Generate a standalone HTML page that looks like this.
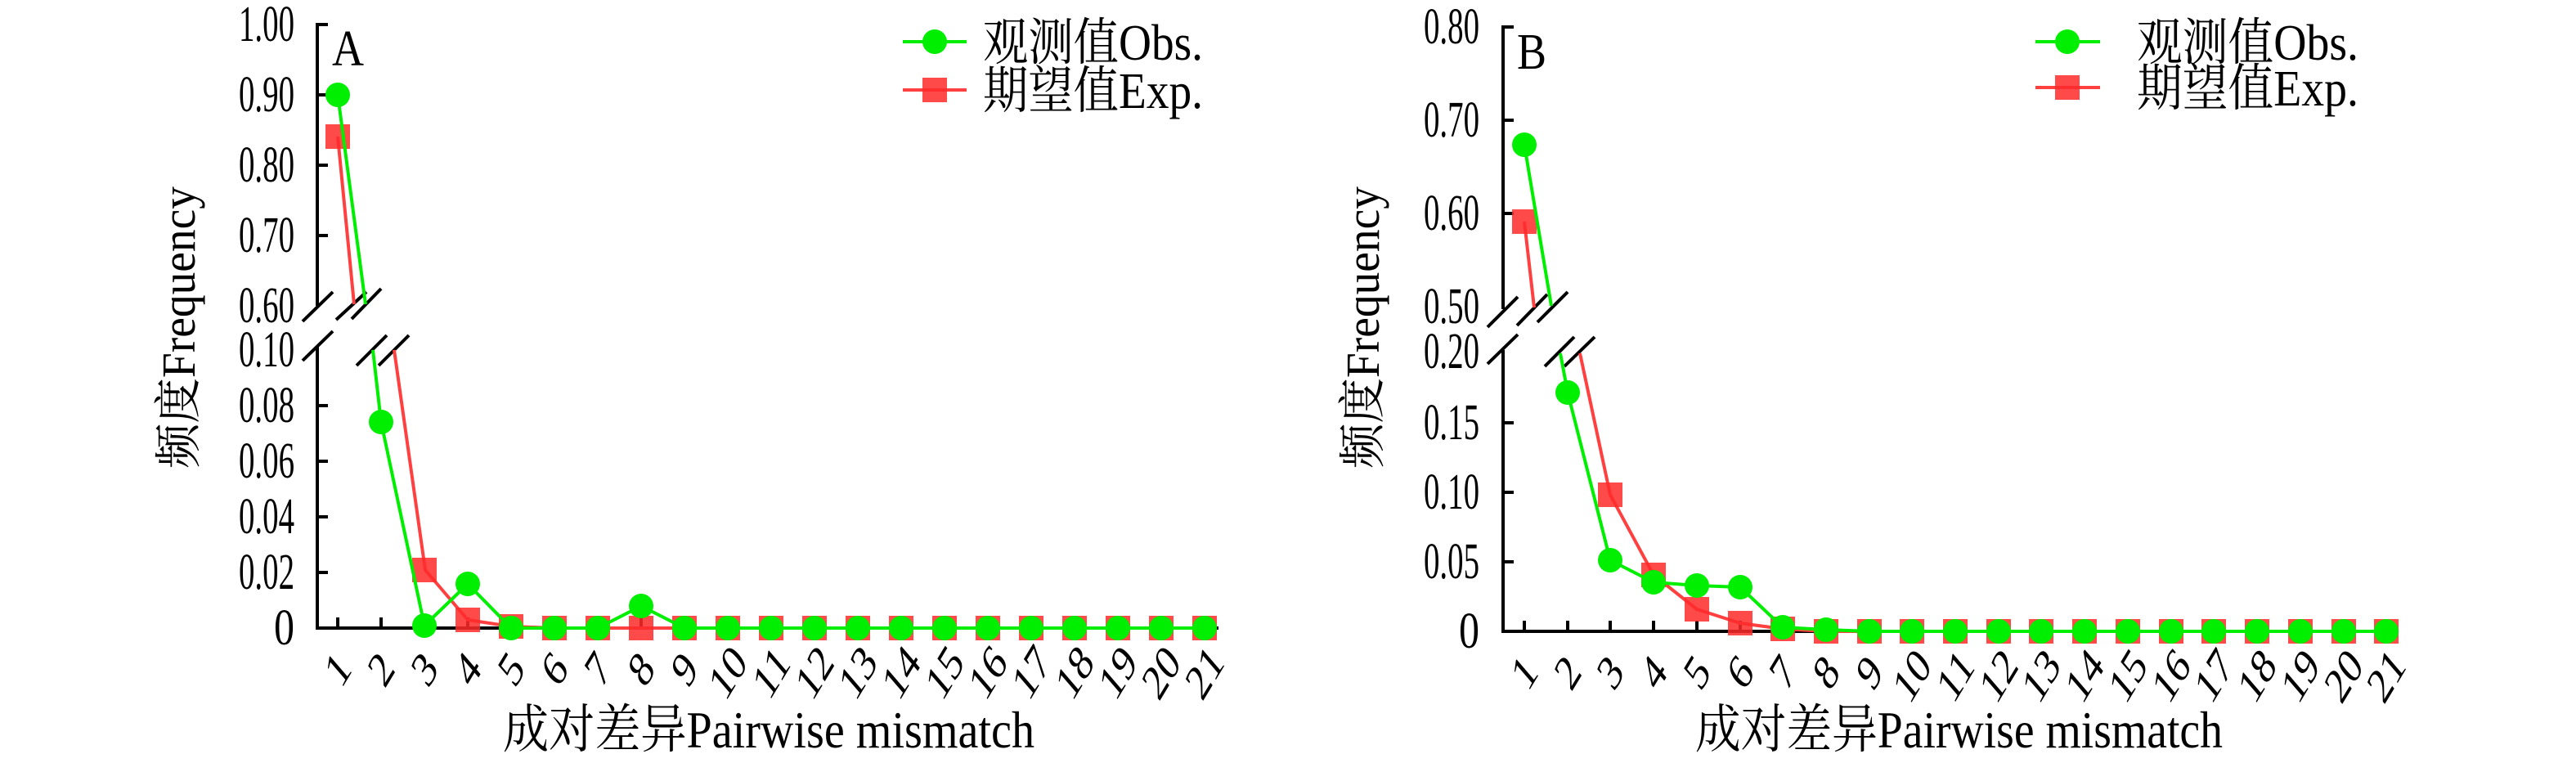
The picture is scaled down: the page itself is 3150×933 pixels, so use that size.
<!DOCTYPE html>
<html><head><meta charset="utf-8"><style>
html,body{margin:0;padding:0;background:#fff;}
svg{display:block;}
text{font-family:"Liberation Serif","Noto Serif CJK SC","Noto Sans CJK SC",serif;fill:#000;}
</style></head><body>
<svg width="3150" height="933" viewBox="0 0 3150 933" xmlns="http://www.w3.org/2000/svg">
<defs>
<circle id="c" r="15" fill="#00ee00"/>
<rect id="s" x="-15" y="-15" width="30" height="30" fill="#ff2a2a" fill-opacity="0.85"/>
</defs>

<!-- ============ PANEL A ============ -->
<g stroke="#000" stroke-width="4" fill="none">
<path d="M401,30 H388 V374"/>
<path d="M388,423 V768 H1490"/>
<path d="M388,116 h13 M388,202 h13 M388,288 h13"/>
<path d="M388,496 h13 M388,564 h13 M388,632 h13 M388,700 h13"/>
<path d="M413,768v-13M466,768v-13M519,768v-13M572,768v-13M625,768v-13M678,768v-13M731,768v-13M784,768v-13M837,768v-13M890,768v-13M943,768v-13M996,768v-13M1049,768v-13M1102,768v-13M1155,768v-13M1208,768v-13M1261,768v-13M1314,768v-13M1367,768v-13M1420,768v-13M1473,768v-13"/>
<path d="M370,393 L407,357 M370,441 L407,405"/>
<path d="M411,391 L448,357 M430,390 L466,353"/>
<path d="M436,447 L473,410 M463,447 L500,410"/>
</g>
<g font-size="62">
<text x="360" y="50" text-anchor="end" textLength="68" lengthAdjust="spacingAndGlyphs">1.00</text>
<text x="360" y="136" text-anchor="end" textLength="68" lengthAdjust="spacingAndGlyphs">0.90</text>
<text x="360" y="222" text-anchor="end" textLength="68" lengthAdjust="spacingAndGlyphs">0.80</text>
<text x="360" y="308" text-anchor="end" textLength="68" lengthAdjust="spacingAndGlyphs">0.70</text>
<text x="360" y="394" text-anchor="end" textLength="68" lengthAdjust="spacingAndGlyphs">0.60</text>
<text x="360" y="448" text-anchor="end" textLength="68" lengthAdjust="spacingAndGlyphs">0.10</text>
<text x="360" y="516" text-anchor="end" textLength="68" lengthAdjust="spacingAndGlyphs">0.08</text>
<text x="360" y="584" text-anchor="end" textLength="68" lengthAdjust="spacingAndGlyphs">0.06</text>
<text x="360" y="652" text-anchor="end" textLength="68" lengthAdjust="spacingAndGlyphs">0.04</text>
<text x="360" y="720" text-anchor="end" textLength="68" lengthAdjust="spacingAndGlyphs">0.02</text>
<text x="360" y="788" text-anchor="end" textLength="25" lengthAdjust="spacingAndGlyphs">0</text>
<text x="406" y="80" textLength="39" lengthAdjust="spacingAndGlyphs">A</text>
</g>
<g font-size="62" text-anchor="middle" dominant-baseline="central">
<text transform="translate(413,818) scale(0.72,1) rotate(-50)">1</text>
<text transform="translate(466,818) scale(0.72,1) rotate(-50)">2</text>
<text transform="translate(519,818) scale(0.72,1) rotate(-50)">3</text>
<text transform="translate(572,818) scale(0.72,1) rotate(-50)">4</text>
<text transform="translate(625,818) scale(0.72,1) rotate(-50)">5</text>
<text transform="translate(678,818) scale(0.72,1) rotate(-50)">6</text>
<text transform="translate(731,818) scale(0.72,1) rotate(-50)">7</text>
<text transform="translate(784,818) scale(0.72,1) rotate(-50)">8</text>
<text transform="translate(837,818) scale(0.72,1) rotate(-50)">9</text>
<text transform="translate(890,822) scale(0.72,1) rotate(-50)">10</text>
<text transform="translate(943,822) scale(0.72,1) rotate(-50)">11</text>
<text transform="translate(996,822) scale(0.72,1) rotate(-50)">12</text>
<text transform="translate(1049,822) scale(0.72,1) rotate(-50)">13</text>
<text transform="translate(1102,822) scale(0.72,1) rotate(-50)">14</text>
<text transform="translate(1155,822) scale(0.72,1) rotate(-50)">15</text>
<text transform="translate(1208,822) scale(0.72,1) rotate(-50)">16</text>
<text transform="translate(1261,822) scale(0.72,1) rotate(-50)">17</text>
<text transform="translate(1314,822) scale(0.72,1) rotate(-50)">18</text>
<text transform="translate(1367,822) scale(0.72,1) rotate(-50)">19</text>
<text transform="translate(1420,822) scale(0.72,1) rotate(-50)">20</text>
<text transform="translate(1473,822) scale(0.72,1) rotate(-50)">21</text>
</g>
<text x="615" y="914" font-size="64" textLength="650" lengthAdjust="spacingAndGlyphs">成对差异Pairwise mismatch</text>
<text transform="translate(238,573) rotate(-90)" font-size="58" textLength="345" lengthAdjust="spacingAndGlyphs">频度Frequency</text>
<!-- legend A -->
<line x1="1104" y1="51" x2="1182" y2="51" stroke="#00ee00" stroke-width="4"/>
<use href="#c" x="1143" y="51"/>
<line x1="1104" y1="110" x2="1182" y2="110" stroke="#ff4040" stroke-width="4"/>
<use href="#s" x="1143" y="110"/>
<text x="1202" y="73" font-size="62" textLength="269" lengthAdjust="spacingAndGlyphs">观测值Obs.</text>
<text x="1202" y="132" font-size="62" textLength="269" lengthAdjust="spacingAndGlyphs">期望值Exp.</text>
<!-- data A -->
<g fill="none" stroke-width="4" stroke-linejoin="round">
<polyline stroke="#ff4040" points="413,167 433,372"/>
<polyline stroke="#ff4040" points="482,428 520,697 572,758 625,766 678,768 1473,768"/>
</g>
<g>
<use href="#s" x="413" y="167"/><use href="#s" x="519" y="697"/><use href="#s" x="572" y="758"/><use href="#s" x="625" y="766"/><use href="#s" x="678" y="768"/><use href="#s" x="731" y="768"/><use href="#s" x="784" y="768"/><use href="#s" x="837" y="768"/><use href="#s" x="890" y="768"/><use href="#s" x="943" y="768"/><use href="#s" x="996" y="768"/><use href="#s" x="1049" y="768"/><use href="#s" x="1102" y="768"/><use href="#s" x="1155" y="768"/><use href="#s" x="1208" y="768"/><use href="#s" x="1261" y="768"/><use href="#s" x="1314" y="768"/><use href="#s" x="1367" y="768"/><use href="#s" x="1420" y="768"/><use href="#s" x="1473" y="768"/>
</g>
<g fill="none" stroke-width="4" stroke-linejoin="round">
<polyline stroke="#00ee00" points="413,116 447,372"/>
<polyline stroke="#00ee00" points="456,428 466,516 519,765 572,714 625,768 731,768 784,741 837,768 1473,768"/>
</g>
<g>
<use href="#c" x="413" y="116"/><use href="#c" x="466" y="516"/><use href="#c" x="519" y="765"/><use href="#c" x="572" y="714"/><use href="#c" x="625" y="768"/><use href="#c" x="678" y="768"/><use href="#c" x="731" y="768"/><use href="#c" x="784" y="741"/><use href="#c" x="837" y="768"/><use href="#c" x="890" y="768"/><use href="#c" x="943" y="768"/><use href="#c" x="996" y="768"/><use href="#c" x="1049" y="768"/><use href="#c" x="1102" y="768"/><use href="#c" x="1155" y="768"/><use href="#c" x="1208" y="768"/><use href="#c" x="1261" y="768"/><use href="#c" x="1314" y="768"/><use href="#c" x="1367" y="768"/><use href="#c" x="1420" y="768"/><use href="#c" x="1473" y="768"/>
</g>

<!-- ============ PANEL B ============ -->
<g stroke="#000" stroke-width="4" fill="none">
<path d="M1851,33 H1838 V378"/>
<path d="M1838,428 V772 H2930"/>
<path d="M1838,147 h13 M1838,261 h13"/>
<path d="M1838,517 h13 M1838,602 h13 M1838,687 h13"/>
<path d="M1864,772v-13M1917,772v-13M1969,772v-13M2022,772v-13M2075,772v-13M2128,772v-13M2180,772v-13M2233,772v-13M2286,772v-13M2338,772v-13M2391,772v-13M2444,772v-13M2496,772v-13M2549,772v-13M2602,772v-13M2655,772v-13M2707,772v-13M2760,772v-13M2813,772v-13M2866,772v-13M2918,772v-13"/>
<path d="M1819,400 L1856,363 M1819,445 L1856,409"/>
<path d="M1855,398 L1892,360 M1880,394 L1917,357"/>
<path d="M1889,448 L1925,412 M1913,448 L1950,412"/>
</g>
<g font-size="62">
<text x="1809" y="53" text-anchor="end" textLength="68" lengthAdjust="spacingAndGlyphs">0.80</text>
<text x="1809" y="167" text-anchor="end" textLength="68" lengthAdjust="spacingAndGlyphs">0.70</text>
<text x="1809" y="281" text-anchor="end" textLength="68" lengthAdjust="spacingAndGlyphs">0.60</text>
<text x="1809" y="395" text-anchor="end" textLength="68" lengthAdjust="spacingAndGlyphs">0.50</text>
<text x="1809" y="450" text-anchor="end" textLength="68" lengthAdjust="spacingAndGlyphs">0.20</text>
<text x="1809" y="537" text-anchor="end" textLength="68" lengthAdjust="spacingAndGlyphs">0.15</text>
<text x="1809" y="622" text-anchor="end" textLength="68" lengthAdjust="spacingAndGlyphs">0.10</text>
<text x="1809" y="707" text-anchor="end" textLength="68" lengthAdjust="spacingAndGlyphs">0.05</text>
<text x="1809" y="792" text-anchor="end" textLength="25" lengthAdjust="spacingAndGlyphs">0</text>
<text x="1855" y="84" textLength="36" lengthAdjust="spacingAndGlyphs">B</text>
</g>
<g font-size="62" text-anchor="middle" dominant-baseline="central">
<text transform="translate(1864,822) scale(0.72,1) rotate(-50)">1</text>
<text transform="translate(1917,822) scale(0.72,1) rotate(-50)">2</text>
<text transform="translate(1969,822) scale(0.72,1) rotate(-50)">3</text>
<text transform="translate(2022,822) scale(0.72,1) rotate(-50)">4</text>
<text transform="translate(2075,822) scale(0.72,1) rotate(-50)">5</text>
<text transform="translate(2128,822) scale(0.72,1) rotate(-50)">6</text>
<text transform="translate(2180,822) scale(0.72,1) rotate(-50)">7</text>
<text transform="translate(2233,822) scale(0.72,1) rotate(-50)">8</text>
<text transform="translate(2286,822) scale(0.72,1) rotate(-50)">9</text>
<text transform="translate(2338,826) scale(0.72,1) rotate(-50)">10</text>
<text transform="translate(2391,826) scale(0.72,1) rotate(-50)">11</text>
<text transform="translate(2444,826) scale(0.72,1) rotate(-50)">12</text>
<text transform="translate(2496,826) scale(0.72,1) rotate(-50)">13</text>
<text transform="translate(2549,826) scale(0.72,1) rotate(-50)">14</text>
<text transform="translate(2602,826) scale(0.72,1) rotate(-50)">15</text>
<text transform="translate(2655,826) scale(0.72,1) rotate(-50)">16</text>
<text transform="translate(2707,826) scale(0.72,1) rotate(-50)">17</text>
<text transform="translate(2760,826) scale(0.72,1) rotate(-50)">18</text>
<text transform="translate(2813,826) scale(0.72,1) rotate(-50)">19</text>
<text transform="translate(2866,826) scale(0.72,1) rotate(-50)">20</text>
<text transform="translate(2918,826) scale(0.72,1) rotate(-50)">21</text>
</g>
<text x="2073" y="914" font-size="64" textLength="645" lengthAdjust="spacingAndGlyphs">成对差异Pairwise mismatch</text>
<text transform="translate(1686,573) rotate(-90)" font-size="58" textLength="345" lengthAdjust="spacingAndGlyphs">频度Frequency</text>
<!-- legend B -->
<line x1="2489" y1="51" x2="2568" y2="51" stroke="#00ee00" stroke-width="4"/>
<use href="#c" x="2528" y="51"/>
<line x1="2489" y1="107" x2="2568" y2="107" stroke="#ff4040" stroke-width="4"/>
<use href="#s" x="2528" y="107"/>
<text x="2613" y="73" font-size="62" textLength="271" lengthAdjust="spacingAndGlyphs">观测值Obs.</text>
<text x="2613" y="129" font-size="62" textLength="271" lengthAdjust="spacingAndGlyphs">期望值Exp.</text>
<!-- data B -->
<g fill="none" stroke-width="4" stroke-linejoin="round">
<polyline stroke="#ff4040" points="1864,271 1876,376"/>
<polyline stroke="#ff4040" points="1932,432 1969,605 2022,703 2075,745 2128,762 2180,769 2233,772 2918,772"/>
</g>
<g>
<use href="#s" x="1864" y="271"/><use href="#s" x="1969" y="605"/><use href="#s" x="2022" y="703"/><use href="#s" x="2075" y="745"/><use href="#s" x="2128" y="762"/><use href="#s" x="2180" y="769"/><use href="#s" x="2233" y="772"/><use href="#s" x="2286" y="772"/><use href="#s" x="2338" y="772"/><use href="#s" x="2391" y="772"/><use href="#s" x="2444" y="772"/><use href="#s" x="2496" y="772"/><use href="#s" x="2549" y="772"/><use href="#s" x="2602" y="772"/><use href="#s" x="2655" y="772"/><use href="#s" x="2707" y="772"/><use href="#s" x="2760" y="772"/><use href="#s" x="2813" y="772"/><use href="#s" x="2866" y="772"/><use href="#s" x="2918" y="772"/>
</g>
<g fill="none" stroke-width="4" stroke-linejoin="round">
<polyline stroke="#00ee00" points="1864,177 1897,374"/>
<polyline stroke="#00ee00" points="1908,432 1917,480 1969,685 2022,712 2075,716 2128,718 2180,767 2233,770 2286,772 2918,772"/>
</g>
<g>
<use href="#c" x="1864" y="177"/><use href="#c" x="1917" y="480"/><use href="#c" x="1969" y="685"/><use href="#c" x="2022" y="712"/><use href="#c" x="2075" y="716"/><use href="#c" x="2128" y="718"/><use href="#c" x="2180" y="767"/><use href="#c" x="2233" y="770"/><use href="#c" x="2286" y="772"/><use href="#c" x="2338" y="772"/><use href="#c" x="2391" y="772"/><use href="#c" x="2444" y="772"/><use href="#c" x="2496" y="772"/><use href="#c" x="2549" y="772"/><use href="#c" x="2602" y="772"/><use href="#c" x="2655" y="772"/><use href="#c" x="2707" y="772"/><use href="#c" x="2760" y="772"/><use href="#c" x="2813" y="772"/><use href="#c" x="2866" y="772"/><use href="#c" x="2918" y="772"/>
</g>
</svg>
</body></html>
